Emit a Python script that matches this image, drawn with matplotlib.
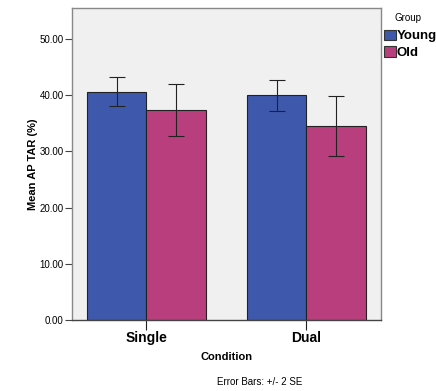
import numpy as np
import matplotlib.pyplot as plt
from matplotlib.patches import Patch

plt.rcParams['font.family'] = ['Liberation Sans', 'DejaVu Sans']

# Data
conditions = ['Single', 'Dual']
groups = ['Young', 'Old']
young_mean = [40.6, 40.0]
old_mean = [37.3, 34.5]
young_err = [2.6, 2.75]   # +/- 2 SE
old_err = [4.6, 5.4]
colors = {'Young': '#3e58ac', 'Old': '#b93e7e'}

fig = plt.figure(figsize=(4.36, 3.91), dpi=100)
ax = fig.add_axes([0.1651, 0.1816, 0.7087, 0.798])
ax.set_facecolor('#f0f0f0')

x = np.arange(len(conditions))
w = 0.372
ax.bar(x - w / 2, young_mean, w, color=colors['Young'], edgecolor='#222222', linewidth=0.8)
ax.bar(x + w / 2, old_mean, w, color=colors['Old'], edgecolor='#222222', linewidth=0.8)
ax.errorbar(x - w / 2, young_mean, yerr=young_err, fmt='none', ecolor='#222222',
            elinewidth=0.8, capsize=6, capthick=0.8)
ax.errorbar(x + w / 2, old_mean, yerr=old_err, fmt='none', ecolor='#222222',
            elinewidth=0.8, capsize=6, capthick=0.8)

ax.set_xlim(-0.4656, 1.4656)
ax.set_ylim(0, 55.5)
ax.set_yticks(np.arange(0, 51, 10))
ax.set_yticklabels([f'{v:.2f}' for v in np.arange(0, 51, 10)], fontsize=7)
ax.set_xticks(x)
ax.set_xticklabels(conditions, fontsize=10, fontweight='bold')
ax.tick_params(axis='y', length=5, width=0.8, color='#444444', pad=1)
ax.tick_params(axis='x', length=7, width=0.8, color='#222222', pad=1)
for s in ax.spines.values():
    s.set_color('#888888')
    s.set_linewidth(1.0)
ax.spines['bottom'].set_color('#444444')

ax.set_ylabel('Mean AP TAR (%)', fontsize=8, fontweight='bold', labelpad=1)
ax.set_xlabel('Condition', fontsize=8, fontweight='bold', labelpad=5)

fig.text(394 / 436, 1 - 18 / 391, 'Group', fontsize=7, va='center', ha='left')
handles = [Patch(facecolor=colors[g], edgecolor='#333333', linewidth=0.8) for g in groups]
leg = fig.legend(handles, groups, loc='upper left', bbox_to_anchor=(381 / 436, 1 - 27 / 391),
                 frameon=False, prop={'size': 9.5, 'weight': 'bold'},
                 handlelength=0.9, handleheight=0.85, handletextpad=0.1,
                 labelspacing=0.3, borderpad=0.2, borderaxespad=0)

fig.text(260 / 436, 1 - 382 / 391, 'Error Bars: +/- 2 SE', fontsize=7, ha='center', va='center')

fig.savefig('out.png', dpi=100)
